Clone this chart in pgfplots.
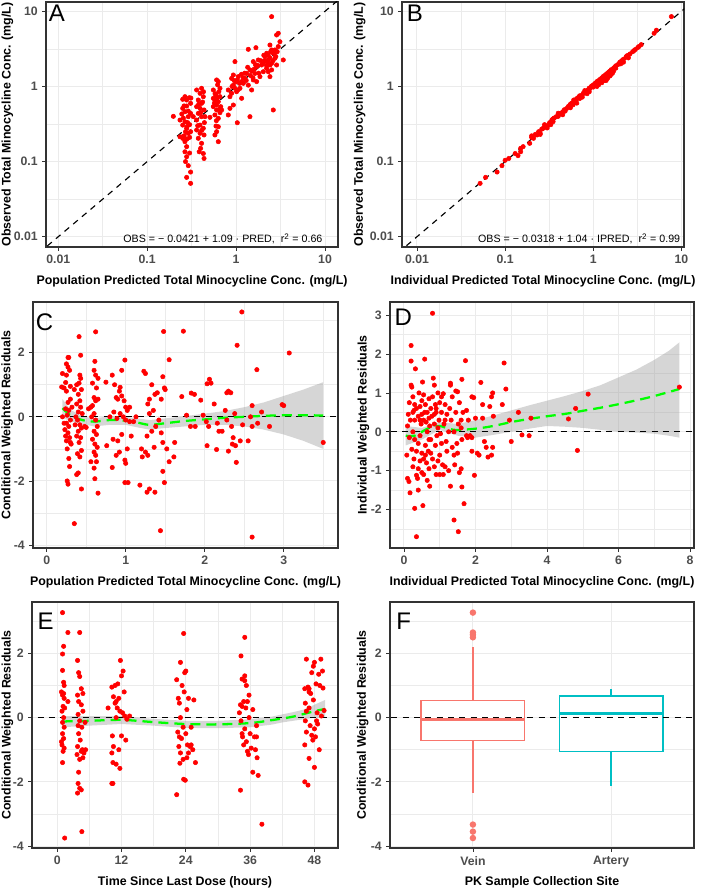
\documentclass[border=0pt]{standalone}
\usepackage{pgfplots}
\pgfplotsset{compat=1.18}
\usepgfplotslibrary{statistics}
\usepackage{fontspec}
\setmainfont{Liberation Sans}
\definecolor{gridcol}{HTML}{EBEBEB}
\definecolor{bordercol}{HTML}{333333}
\definecolor{tickcol}{HTML}{4D4D4D}
\definecolor{ptred}{HTML}{FF0000}
\definecolor{loessgreen}{HTML}{00FF00}
\definecolor{bandgray}{HTML}{999999}
\definecolor{veincol}{HTML}{F8766D}
\definecolor{arterycol}{HTML}{00BFC4}
\pgfplotsset{gg/.style={
  scale only axis,
  axis line style={draw=bordercol, line width=0.9pt},
  every tick/.style={draw=bordercol, line width=0.6pt},
  tick align=outside, major tick length=2.7pt, minor tick length=0pt,
  tick pos=left,
  grid=both,
  major grid style={draw=gridcol, line width=0.75pt},
  minor grid style={draw=gridcol, line width=0.4pt},
  tick label style={font=\bfseries\fontsize{9.2}{10.5}\selectfont, text=tickcol},
  label style={font=\bfseries\fontsize{9.3}{11}\selectfont},
  xlabel style={at={([yshift=-25.5pt]axis description cs:0.5,0)}, anchor=center},
  /pgf/number format/assume math mode=true,
},
ylab/.style={ylabel style={at={([xshift=#1]axis description cs:0,0.5)}, anchor=center}},
pts/.style={only marks, mark=*, mark size=1.65pt, color=ptred, mark options={draw=none, fill=ptred}},
refline/.style={black, line width=0.85pt, dash pattern=on 4.5pt off 4pt},
loess/.style={loessgreen, line width=1.7pt, dash pattern=on 7.5pt off 4.5pt},
band/.style={draw=none, fill=bandgray, fill opacity=0.4},
}
\tikzset{
letter/.style={anchor=north west, inner sep=0pt, font=\fontsize{18}{20}\selectfont},
annot/.style={anchor=base east, inner sep=0pt, font=\fontsize{8}{9.6}\selectfont},
}
\begin{document}
\begin{tikzpicture}
\path[use as bounding box] (0,0) rectangle (525pt,666.75pt);
% ---------------- A ----------------
\begin{axis}[gg, ylab=-29pt, at={(34.5pt,481.5pt)}, anchor=south west, width=219pt, height=183.75pt,
  xmode=log, ymode=log, xmin=0.00728, xmax=14.0, ymin=0.0073, ymax=13.3,
  xtick={0.01,0.1,1,10}, xticklabels={0.01,0.1,1,10},
  ytick={0.01,0.1,1,10}, yticklabels={0.01,0.1,1,10},
  minor xtick={0.0316,0.316,3.16}, minor ytick={0.0316,0.316,3.16},
  xlabel={Population Predicted Total Minocycline Conc. (mg/L)},
  ylabel={Observed Total Minocycline Conc. (mg/L)}]
\addplot[pts] coordinates {
(0.197,0.40)(0.234,0.357)(0.308,0.0513)(0.278,0.0616)(0.308,0.0726)(0.290,0.0882)(0.278,0.116)(0.266,0.135)(0.278,0.158)(0.266,0.184)(0.251,0.204)(0.234,0.214)(0.251,0.214)(0.290,0.238)(0.308,0.250)(0.278,0.277)(0.251,0.306)(0.266,0.339)(0.290,0.396)(0.308,0.438)(0.266,0.461)(0.251,0.511)(0.278,0.549)(0.308,0.596)(0.278,0.660)(0.298,0.708)(0.251,0.674)(0.266,0.731)
(0.26,0.22)(0.28,0.20)(0.3,0.21)(0.27,0.25)(0.255,0.38)(0.285,0.33)(0.31,0.70)(0.29,0.47)(0.26,0.55)(0.3,0.13)(0.27,0.10)(0.28,0.29)(0.245,0.43)(0.3,0.31)
(0.409,0.944)(0.393,0.810)(0.428,0.731)(0.376,0.660)(0.409,0.596)(0.360,0.538)(0.393,0.511)(0.436,0.486)(0.376,0.438)(0.409,0.396)(0.360,0.357)(0.393,0.306)(0.428,0.277)(0.360,0.263)(0.393,0.238)(0.436,0.226)(0.376,0.204)(0.409,0.175)(0.385,0.135)(0.428,0.128)(0.436,0.110)(0.399,0.150)(0.447,0.396)(0.330,0.396)(0.360,0.897)(0.42,0.62)(0.40,0.45)(0.37,0.30)(0.44,0.33)(0.41,0.26)(0.38,0.58)(0.43,0.85)
(0.508,0.388)
(0.604,1.22)(0.631,1.16)(0.555,0.897)(0.594,0.769)(0.659,0.731)(0.578,0.660)(0.631,0.627)(0.555,0.538)(0.604,0.486)(0.659,0.448)(0.578,0.417)(0.631,0.376)(0.594,0.297)(0.631,0.291)(0.604,0.250)(0.578,0.226)(0.631,0.184)(0.659,0.944)(0.555,0.695)(0.604,0.566)(0.672,0.538)(0.62,1.05)(0.58,0.80)(0.64,0.85)(0.61,0.70)(0.57,0.60)(0.65,0.50)(0.6,0.35)
(0.688,0.486)(0.817,0.417)(0.853,0.511)(0.931,0.566)(0.853,0.731)(0.891,0.810)(0.971,0.944)(0.931,1.04)(1.032,1.22)(0.971,2.14)(1.059,1.35)(1.106,0.944)(1.014,0.852)(1.154,1.16)(0.891,1.28)(0.817,0.897)(0.931,1.42)(1.032,0.329)(1.154,0.695)(1.206,1.10)(1.314,1.49)(1.259,1.28)(1.372,1.04)(1.432,1.66)(1.496,0.897)(1.432,0.396)(1.561,1.22)(1.630,1.49)(1.702,1.83)(1.778,2.25)(1.855,1.35)(1.937,1.93)(1.702,1.16)(1.561,2.14)(2.023,1.57)(2.205,1.74)(2.302,2.25)(2.112,2.49)(2.404,1.93)(2.510,2.03)(2.620,2.76)(2.736,2.37)(2.510,3.06)(2.205,2.76)(2.856,1.93)(2.404,1.35)(2.302,1.57)(2.510,1.66)(2.982,3.39)(3.113,3.94)(2.982,5.09)(2.856,4.84)(2.510,8.49)(3.394,2.25)(2.620,0.486)(2.736,3.06)(2.404,3.56)(1.372,3.12)(1.672,3.28)
(1.2,1.3)(1.3,1.2)(1.1,1.1)(1.25,1.5)(1.45,1.4)(1.5,1.6)(1.6,1.7)(1.75,1.9)(1.8,1.5)(1.9,2.2)(2.0,2.0)(2.1,2.2)(2.2,1.9)(2.3,2.6)(2.4,2.4)(2.6,2.2)(2.7,2.8)(2.8,2.5)(1.0,1.15)(0.95,1.2)(1.05,0.9)(0.9,1.0)(1.15,1.45)(1.35,1.8)(1.55,1.3)(1.65,1.95)(2.05,2.6)(2.25,2.1)(2.45,2.9)(2.9,2.9)
};
\addplot[refline] coordinates {(0.001,0.001) (100,100)};
\node[letter] at (rel axis cs:0,1) [xshift=2pt, yshift=-2.25pt] {A};
\node[annot] at (rel axis cs:1,0) [xshift=-11.5pt, yshift=3pt] {OBS = − 0.0421 + 1.09 · PRED,\ \ r\textsuperscript{2} = 0.66};
\end{axis}
% ---------------- B ----------------
\begin{axis}[gg, ylab=-31.8pt, at={(301.5pt,481.5pt)}, anchor=south west, width=211.5pt, height=183.75pt,
  xmode=log, ymode=log, xmin=0.00676, xmax=10.7, ymin=0.0073, ymax=13.3,
  xtick={0.01,0.1,1,10}, xticklabels={0.01,0.1,1,10},
  ytick={0.01,0.1,1,10}, yticklabels={0.01,0.1,1,10},
  minor xtick={0.0316,0.316,3.16}, minor ytick={0.0316,0.316,3.16},
  xlabel={Individual Predicted Total Minocycline Conc. (mg/L)},
  ylabel={Observed Total Minocycline Conc. (mg/L)}]
\addplot[pts] coordinates {
(0.052,0.0513)(0.060,0.0616)(0.081,0.0726)(0.092,0.0882)(0.10,0.104)(0.11,0.11)(0.13,0.128)(0.14,0.12)(0.15,0.135)(0.15,0.15)(0.16,0.158)(0.19,0.175)(0.2,0.22)(0.2,0.21)(0.21,0.204)(0.22,0.23)(0.23,0.226)(0.24,0.25)(0.25,0.238)(0.26,0.27)(0.27,0.277)(0.28,0.29)(0.29,0.297)(0.3,0.28)(0.31,0.306)(0.32,0.33)(0.34,0.36)(0.35,0.34)(0.36,0.38)(0.38,0.396)(0.4,0.40)(0.42,0.43)(0.43,0.44)(0.45,0.46)(0.47,0.49)(0.48,0.47)(0.5,0.51)(0.52,0.54)(0.54,0.56)(0.55,0.58)(0.57,0.60)(0.59,0.57)(0.6,0.62)(0.62,0.66)(0.64,0.67)(0.66,0.70)(0.68,0.71)(0.7,0.69)(0.72,0.74)(0.75,0.77)(0.77,0.81)(0.8,0.83)(0.82,0.85)(0.85,0.87)(0.87,0.90)(0.9,0.95)(0.92,0.94)(0.95,1.0)(0.97,1.02)(1.0,1.04)(1.02,1.06)(1.05,1.1)(1.08,1.12)(1.1,1.16)(1.15,1.2)(1.2,1.25)(1.25,1.3)(1.3,1.36)(1.35,1.4)(1.4,1.45)(1.45,1.5)(1.5,1.56)(1.55,1.6)(1.6,1.67)(1.7,1.75)(1.8,1.88)(1.9,1.95)(2.0,2.1)(2.1,2.2)(2.2,2.3)(2.35,2.45)(2.5,2.6)(2.6,2.7)(2.8,2.9)(3.0,3.1)(3.2,3.3)(3.5,3.6)(4.9,5.1)(5.2,5.6)(7.7,8.5)
(0.65,0.6)(0.7,0.75)(0.9,0.85)(1.1,1.0)(1.3,1.2)(1.5,1.4)(1.7,1.6)(0.45,0.42)(0.35,0.37)(1.4,1.2)(1.6,1.45)(0.25,0.23)(0.33,0.31)(0.55,0.52)(0.75,0.72)(1.2,1.15)(2.2,2.1)(2.5,2.4)(1.0,0.98)(0.85,0.8)(1.45,1.3)(1.35,1.25)(1.25,1.18)(2.9,3.0)(3.3,3.4)(2.4,2.55)(1.95,2.0)(1.75,1.8)
(1.15,1.05)(1.25,1.12)(1.35,1.2)(1.45,1.28)(1.55,1.38)(1.65,1.5)(0.6,0.66)(0.8,0.88)(0.4,0.44)(0.28,0.31)(1.8,1.75)(2.05,2.0)
};
\addplot[refline] coordinates {(0.001,0.001) (100,100)};
\node[letter] at (rel axis cs:0,1) [xshift=3.5pt, yshift=-2.25pt] {B};
\node[annot] at (rel axis cs:1,0) [xshift=-2.7pt, yshift=3pt] {OBS = − 0.0318 + 1.04 · IPRED,\ \ r\textsuperscript{2} = 0.99};
\end{axis}
% ---------------- C ----------------
\begin{axis}[gg, ylab=-19.3pt, at={(24.75pt,255.75pt)}, anchor=south west, width=228.75pt, height=184.5pt,
  xmin=-0.173, xmax=3.687, ymin=-4.09, ymax=3.58,
  xtick={0,1,2,3}, xticklabels={0,1,2,3}, minor xtick={0.5,1.5,2.5,3.5},
  ytick={-4,-2,0,2}, yticklabels={-4,-2,0,2}, minor ytick={-3,-1,1,3},
  xlabel={Population Predicted Total Minocycline Conc. (mg/L)},
  ylabel={Conditional Weighted Residuals}]
\addplot[pts] coordinates {
(0.19,0.93)(0.2,1.35)(0.22,0.9)(0.24,1.07)(0.25,1.65)(0.27,1.85)(0.28,1.85)(0.27,1.55)(0.29,1.45)(0.25,1.3)(0.3,0.55)(0.27,0.45)(0.24,0.25)(0.28,0.2)(0.26,0.05)(0.3,-0.1)(0.25,-0.2)(0.28,-0.3)(0.23,-0.4)(0.27,-0.5)(0.29,-0.65)(0.25,-0.75)(0.3,-0.8)(0.26,-1.0)(0.28,-1.3)(0.29,-1.55)(0.26,-2.0)(0.27,-2.1)(0.31,-0.85)(0.22,-0.2)(0.25,0.8)(0.3,0.95)(0.32,0.3)(0.2,0.0)(0.24,-0.6)
(0.41,2.5)(0.43,1.92)(0.38,1.0)(0.42,1.3)(0.43,1.2)(0.41,1.05)(0.44,0.85)(0.4,0.7)(0.42,0.5)(0.38,0.4)(0.43,0.3)(0.4,0.15)(0.37,0.0)(0.39,-0.1)(0.42,-0.25)(0.44,-0.35)(0.4,-0.45)(0.38,-0.6)(0.43,-0.65)(0.41,-0.8)(0.44,-1.05)(0.39,-1.15)(0.42,-1.25)(0.4,-1.75)(0.38,-1.8)(0.44,-2.25)(0.35,-3.33)(0.36,-0.25)(0.45,0.1)(0.35,0.85)(0.48,-0.3)(0.5,-0.33)
(0.62,2.65)(0.61,1.73)(0.6,1.45)(0.62,1.3)(0.65,1.2)(0.58,1.05)(0.63,0.9)(0.6,0.6)(0.62,0.5)(0.65,0.55)(0.56,0.3)(0.58,0.35)(0.6,0.1)(0.62,-0.1)(0.64,-0.3)(0.6,-0.45)(0.63,-0.55)(0.58,-0.7)(0.61,-0.85)(0.64,-0.95)(0.6,-1.1)(0.62,-1.2)(0.56,-1.4)(0.63,-1.4)(0.61,-1.93)(0.65,-2.38)(0.57,0.0)(0.53,0.25)(0.6,-1.6)
(0.75,1.08)(0.83,1.3)(0.95,1.45)(0.99,1.77)(0.86,1.0)(0.92,0.8)(0.95,0.65)(0.98,0.5)(1.0,0.3)(1.02,0.2)(0.9,0.55)(0.88,0.6)(0.85,0.15)(0.93,0.1)(0.97,0.0)(1.0,-0.1)(1.05,-0.15)(0.89,-0.05)(0.84,-0.7)(0.9,-0.75)(0.95,-0.55)(0.88,-1.2)(0.92,-1.1)(0.99,-1.35)(1.0,-1.45)(1.02,-1.0)(0.83,-1.58)(0.99,-2.05)(1.03,-2.05)(0.76,-0.9)(0.8,0.0)(1.05,0.3)(1.07,-0.6)(0.93,0.92)
(1.23,1.42)(1.25,1.35)(1.33,1.0)(1.37,0.7)(1.3,0.55)(1.28,0.4)(1.4,0.75)(1.45,0.55)(1.47,1.25)(1.49,0.9)(1.5,0.85)(1.55,1.78)(1.48,2.66)(1.73,2.67)(1.35,0.2)(1.3,0.1)(1.42,-0.1)(1.38,-0.3)(1.33,-0.45)(1.45,-0.5)(1.27,-0.6)(1.36,-0.95)(1.47,-0.8)(1.52,-1.0)(1.2,-1.0)(1.25,-1.1)(1.28,-1.2)(1.21,-1.25)(1.55,-1.4)(1.18,-2.13)(1.3,-2.25)(1.27,-2.35)(1.37,-2.35)(1.47,-1.7)(1.49,-2.05)(1.44,-3.55)(1.62,-0.8)(1.61,-1.25)(1.13,0.0)(1.1,-0.15)
(1.71,0.63)(1.83,0.74)(1.87,0.7)(1.95,0.52)(2.03,1.03)(2.06,1.17)(2.08,1.05)(2.12,0.4)(1.77,0.05)(1.82,-0.3)(1.88,-0.3)(1.98,0.05)(2.02,-0.15)(2.05,-0.3)(2.03,-0.9)(2.15,-1.02)(2.16,-0.2)(2.18,-0.45)(2.22,-0.45)
(2.26,0.2)(2.28,0.75)(2.3,0.8)(2.33,0.75)(2.47,3.27)(2.41,2.23)(2.3,-1.07)(2.34,-0.3)(2.36,-0.65)(2.35,-0.85)(2.39,-0.9)(2.4,-1.42)(2.45,-0.75)(2.48,-0.25)(2.55,-0.75)(2.58,0.0)(2.6,-0.3)(2.6,0.35)(2.66,1.47)(2.67,-0.2)(2.72,0.15)(2.82,-0.3)(2.98,0.38)(3.0,0.35)(3.07,1.99)(3.5,-0.8)(2.6,-3.75)(2.38,0.1)(2.28,-0.1)
};
\addplot[band] coordinates {(0.2,0.55)(0.3,0.22)(0.45,0.02)(0.6,-0.05)(0.8,0.02)(1.0,0.0)(1.15,-0.05)(1.3,-0.1)(1.5,-0.05)(1.75,0.02)(2.0,0.1)(2.25,0.18)(2.5,0.3)(2.75,0.45)(3.0,0.65)(3.25,0.85)(3.5,1.08)
 (3.5,-1.0)(3.25,-0.75)(3.0,-0.55)(2.75,-0.4)(2.5,-0.3)(2.25,-0.25)(2.0,-0.25)(1.75,-0.3)(1.5,-0.35)(1.3,-0.4)(1.15,-0.33)(1.0,-0.25)(0.8,-0.25)(0.6,-0.3)(0.45,-0.22)(0.3,-0.15)(0.2,0.0)} -- cycle;
\addplot[refline] coordinates {(-1,0) (5,0)};
\addplot[loess, smooth] coordinates {(0.2,0.27)(0.3,0.05)(0.45,-0.1)(0.6,-0.15)(0.8,-0.1)(1.0,-0.12)(1.15,-0.18)(1.3,-0.25)(1.5,-0.2)(1.75,-0.13)(2.0,-0.08)(2.25,-0.03)(2.5,0.0)(2.75,0.03)(3.0,0.05)(3.25,0.05)(3.5,0.04)};
\node[letter] at (rel axis cs:0,1) [xshift=2pt, yshift=-8.25pt] {C};
\end{axis}
% ---------------- D ----------------
\begin{axis}[gg, ylab=-20pt, at={(292.5pt,255.75pt)}, anchor=south west, width=228pt, height=184.5pt,
  xmin=-0.39, xmax=8.11, ymin=-2.99, ymax=3.34,
  xtick={0,2,4,6,8}, xticklabels={0,2,4,6,8}, minor xtick={1,3,5,7},
  ytick={-3,-2,-1,0,1,2,3}, yticklabels={-3,-2,-1,0,1,2,3}, minor ytick={-2.5,-1.5,-0.5,0.5,1.5,2.5},
  xlabel={Individual Predicted Total Minocycline Conc. (mg/L)},
  ylabel={Individual Weighted Residuals}]
\addplot[pts] coordinates {
(0.1,0.15)(0.12,0.45)(0.15,0.75)(0.08,-0.6)(0.1,-1.2)(0.14,-1.28)(0.17,-1.57)(0.2,1.82)(0.2,2.22)(0.2,1.2)(0.22,1.15)(0.25,0.9)(0.28,0.55)(0.3,0.3)(0.25,0.0)(0.3,-0.2)(0.22,-0.45)(0.28,-0.7)(0.25,-0.9)(0.32,1.62)(0.35,-1.12)(0.35,-2.7)(0.3,-1.97)(0.4,-1.5)(0.38,-1.2)(0.42,1.0)(0.45,0.65)(0.4,0.4)(0.48,0.2)(0.45,-0.1)(0.4,-0.3)(0.5,-0.55)(0.45,-0.75)(0.5,-1.05)(0.55,-1.1)(0.53,-1.9)(0.52,1.28)(0.58,1.87)(0.55,0.95)(0.6,0.7)(0.58,0.5)(0.62,0.25)(0.65,0.0)(0.6,-0.35)(0.68,-0.5)(0.63,-0.8)(0.7,-0.95)(0.65,-1.25)(0.72,-1.4)(0.7,0.85)(0.75,0.6)(0.78,0.4)(0.72,0.15)(0.8,3.05)(0.82,1.38)(0.85,1.2)(0.8,0.9)(0.88,0.7)(0.9,0.5)(0.85,0.2)(0.92,-0.1)(0.88,-0.35)(0.8,-0.7)(0.85,-0.9)(0.9,-1.1)(0.95,1.0)(1.0,0.75)(1.05,0.5)(0.98,0.3)(1.02,-0.05)(1.05,-0.3)(1.0,-0.6)(1.08,-0.85)(1.0,-1.1)(1.1,-1.1)(1.1,0.98)(1.15,0.7)(1.2,0.45)(1.12,0.2)(1.18,-0.25)(1.2,-0.5)(1.15,-0.9)(1.25,-1.0)(1.3,1.25)(1.3,1.2)(1.35,0.9)(1.28,0.6)(1.32,0.3)(1.4,0.0)(1.35,-0.4)(1.4,-0.6)(1.3,-1.4)(1.42,-0.85)(1.45,1.05)(1.5,1.03)(1.55,0.75)(1.45,0.5)(1.52,0.2)(1.48,-0.3)(1.5,-0.55)(1.55,-1.05)(1.6,-0.95)(1.62,1.35)(1.65,0.5)(1.6,0.3)(1.62,-0.2)(1.62,-1.42)(1.4,-2.27)(1.52,-2.57)(1.68,-1.85)(1.72,1.83)(1.75,0.55)(1.8,0.3)(1.78,-0.15)(1.85,-0.1)(1.9,0.9)(1.95,0.88)(1.9,-0.5)(1.97,-1.12)(2.0,0.35)(2.05,-0.55)(2.1,-0.6)(2.15,1.27)(2.2,0.7)(2.2,0.35)(2.25,-0.25)(2.3,-0.4)(2.35,-0.65)(2.4,0.65)(2.45,0.9)(2.48,1.0)(2.5,0.4)(2.45,-0.6)(2.48,-0.4)(2.8,1.77)(2.85,1.1)(2.75,0.7)(2.95,0.3)(3.0,-0.25)(3.2,0.5)(3.3,-0.08)(3.5,-0.1)(3.55,0.35)(4.6,0.33)(4.8,0.6)(4.85,-0.48)(5.15,0.97)(7.7,1.15)
(0.15,-0.15)(0.18,0.3)(0.35,0.6)(0.5,0.8)(0.55,0.3)(0.6,-0.6)(0.75,-0.2)(0.95,0.1)(1.25,0.0)(0.4,-0.95)(0.7,0.35)(1.05,0.9)(0.9,0.6)(0.65,0.5)(1.6,0.1)(1.75,-0.1)(1.9,-0.15)(0.3,0.7)(0.5,0.45)(0.7,-0.2)(0.35,-0.5)(0.55,-0.7)(0.75,-0.55)(0.95,-0.75)(1.15,0.3)(0.25,0.5)(0.45,0.3)(0.85,0.45)
};
\addplot[band] coordinates {(0.05,0.15)(0.5,0.1)(1.0,0.25)(1.5,0.2)(2.0,0.3)(2.5,0.42)(3.0,0.55)(3.5,0.68)(4.0,0.8)(4.5,0.92)(5.0,1.05)(5.5,1.2)(6.0,1.4)(6.5,1.6)(7.0,1.85)(7.4,2.08)(7.7,2.3)
 (7.7,-0.15)(7.4,-0.1)(7.0,-0.05)(6.5,-0.02)(6.0,0.0)(5.5,0.05)(5.0,0.1)(4.5,0.13)(4.0,0.15)(3.5,0.08)(3.0,0.0)(2.5,-0.08)(2.0,-0.15)(1.5,-0.1)(1.0,0.05)(0.5,-0.2)(0.05,-0.35)} -- cycle;
\addplot[refline] coordinates {(-1,0) (9,0)};
\addplot[loess, smooth] coordinates {(0.05,-0.1)(0.3,-0.1)(0.7,0.1)(1.0,0.15)(1.4,0.05)(2.0,0.08)(2.5,0.15)(3.0,0.25)(3.5,0.33)(4.0,0.4)(4.5,0.46)(5.0,0.54)(5.5,0.62)(6.0,0.71)(6.5,0.81)(7.0,0.92)(7.7,1.1)};
\node[letter] at (rel axis cs:0,1) [xshift=3.3pt, yshift=-4.7pt] {D};
\end{axis}
% ---------------- E ----------------
\begin{axis}[gg, ylab=-18.5pt, at={(24pt,30.75pt)}, anchor=south west, width=229.5pt, height=184.5pt,
  xmin=-4.7, xmax=52.4, ymin=-4.06, ymax=3.6,
  xtick={0,12,24,36,48}, xticklabels={0,12,24,36,48}, minor xtick={6,18,30,42},
  ytick={-4,-2,0,2}, yticklabels={-4,-2,0,2}, minor ytick={-3,-1,1,3},
  xlabel={Time Since Last Dose (hours)},
  ylabel={Conditional Weighted Residuals}]
\addplot[pts] coordinates {
(1.0,3.27)(1.2,2.22)(1.0,1.98)(2.0,2.65)(1.0,1.47)(1.2,1.1)(1.3,1.0)(0.8,0.8)(1.0,0.7)(1.3,0.6)(1.1,0.35)(0.9,0.2)(1.2,0.0)(1.0,-0.15)(1.3,-0.3)(1.0,-0.5)(1.2,-0.65)(0.9,-0.85)(1.3,-0.95)(1.1,-1.05)(1.0,-1.4)(1.4,-3.75)(2.0,0.5)(1.2,0.75)(0.8,-0.75)(1.4,0.3)
(4.2,2.65)(3.8,1.78)(4.0,1.4)(4.2,1.28)(4.5,0.9)(3.8,0.7)(4.8,0.75)(4.0,0.5)(4.5,0.4)(4.8,0.2)(3.9,0.1)(4.2,-0.1)(4.6,-0.3)(4.0,-0.5)(4.3,-0.7)(3.8,-0.9)(4.5,-1.05)(5.0,-1.1)(3.7,-1.15)(4.2,-1.3)(4.8,-1.25)(4.0,-1.7)(3.9,-2.05)(4.2,-2.2)(3.8,-2.35)(4.5,-2.25)(4.6,-3.55)(5.2,-0.15)(5.3,-1.0)(4.7,-1.0)(3.9,-0.25)
(9.5,0.3)(10.2,0.95)(10.5,0.65)(11.0,0.5)(11.5,0.6)(11.8,1.78)(12.0,1.3)(12.3,1.45)(12.5,0.8)(11.3,1.05)(10.8,1.0)(11.2,0.3)(11.7,0.2)(12.2,0.15)(12.6,0.05)(13.0,-0.05)(13.5,0.05)(10.3,-0.57)(10.5,-0.9)(10.2,-1.1)(10.4,-1.4)(11.0,-1.45)(11.5,-1.0)(12.0,-0.57)(12.8,-0.7)(11.7,-1.58)(10.2,-2.05)(10.4,-2.05)(11.0,0.0)(10.8,0.45)
(22.3,1.18)(22.6,0.6)(22.8,0.45)(23.0,1.72)(23.3,1.0)(23.6,2.62)(23.8,1.4)(24.0,1.45)(23.7,0.8)(24.2,0.25)(24.5,0.6)(25.5,0.55)(23.0,0.0)(22.5,-0.45)(22.8,-0.6)(23.2,-0.65)(23.5,-0.3)(24.0,-0.5)(24.3,-0.85)(22.7,-0.9)(23.0,-1.1)(23.5,-1.3)(24.5,-1.1)(24.8,-0.9)(25.0,-0.85)(25.3,-1.0)(25.8,-1.4)(22.9,-1.42)(23.6,-1.92)(23.9,-1.95)(22.3,-2.4)(24.2,-1.25)(25.0,-0.3)
(34.3,1.92)(35.0,2.5)(34.5,1.2)(35.0,1.15)(35.3,1.0)(35.0,1.3)(35.8,0.7)(34.8,0.5)(35.5,0.5)(34.5,0.35)(35.2,0.3)(34.0,0.15)(35.8,0.0)(36.5,0.25)(34.3,-0.1)(35.0,-0.35)(34.6,-0.6)(35.3,-0.75)(34.8,-0.85)(35.5,-1.05)(35.7,-1.15)(36.0,-0.5)(36.8,-0.6)(37.2,-0.6)(37.0,-1.0)(36.2,-0.95)(37.3,-1.25)(36.5,-1.7)(37.5,-1.8)(34.2,-2.26)(38.2,-3.32)(37.2,-0.25)(34.5,-0.5)(34.2,0.4)
(46.5,1.82)(48.0,1.72)(47.8,1.6)(47.5,1.4)(48.8,1.35)(49.5,1.45)(49.2,1.82)(48.3,1.05)(49.0,1.0)(49.6,0.92)(46.2,0.9)(46.8,0.95)(47.0,0.8)(47.3,0.75)(47.8,0.55)(46.3,0.45)(47.0,0.3)(46.5,0.2)(48.5,0.15)(49.3,0.05)(49.8,0.22)(46.3,-0.1)(47.2,-0.25)(48.0,-0.35)(46.5,-0.45)(48.6,-0.2)(47.5,-0.55)(48.2,-0.6)(47.7,-0.7)(46.2,-0.85)(48.9,-1.0)(47.0,-1.27)(48.0,-1.55)(46.2,-2.0)(46.8,-2.1)(48.4,-0.1)(47.0,0.9)
};
\addplot[band] coordinates {(1,0.05)(6,0.05)(12,0.05)(18,-0.04)(24,-0.1)(30,-0.1)(36,-0.05)(40,0.03)(42,0.1)(44,0.17)(46,0.25)(48,0.4)(50,0.55)
 (50,0.0)(48,0.0)(46,-0.05)(44,-0.1)(42,-0.15)(40,-0.22)(36,-0.3)(30,-0.33)(24,-0.32)(18,-0.25)(12,-0.2)(6,-0.25)(1,-0.3)} -- cycle;
\addplot[refline] coordinates {(-10,0) (60,0)};
\addplot[loess, smooth] coordinates {(1,-0.12)(6,-0.1)(12,-0.07)(18,-0.14)(24,-0.2)(30,-0.21)(36,-0.17)(40,-0.08)(44,0.03)(48,0.2)(50,0.27)};
\node[letter] at (rel axis cs:0,1) [xshift=4pt, yshift=-8.25pt] {E};
\end{axis}
% ---------------- F ----------------
\begin{axis}[gg, ylab=-20.5pt, at={(292.5pt,30.75pt)}, anchor=south west, width=228pt, height=184.5pt,
  xmin=0.4, xmax=2.6, ymin=-4.06, ymax=3.6,
  xtick={1,2}, xticklabels={Vein,Artery},
  ytick={-4,-2,0,2}, yticklabels={-4,-2,0,2}, minor ytick={-3,-1,1,3},
  xlabel={PK Sample Collection Site},
  ylabel={Conditional Weighted Residuals},
  boxplot/draw direction=y, boxplot/whisker extend=0]
\addplot[veincol, line width=1pt, mark=*, mark size=1.9pt, mark options={draw=none, fill=veincol},
  boxplot prepared={draw position=1, box extend=0.75, lower whisker=-2.36, lower quartile=-0.72, median=-0.05, upper quartile=0.54, upper whisker=2.21},
  boxplot/every box/.style={fill=white, line width=1pt},
  boxplot/every whisker/.style={line width=1pt},
  boxplot/every median/.style={line width=2pt}]
  table[row sep=\\, y index=0] {data\\ 3.27\\ 2.65\\ 2.58\\ 2.5\\ -3.33\\ -3.55\\ -3.75\\};
\addplot[arterycol, line width=1pt,
  boxplot prepared={draw position=2, box extend=0.75, lower whisker=-2.12, lower quartile=-1.06, median=0.135, upper quartile=0.675, upper whisker=0.89},
  boxplot/every box/.style={fill=white, line width=1pt},
  boxplot/every whisker/.style={line width=1pt},
  boxplot/every median/.style={line width=2pt}]
  coordinates {};
\addplot[refline] coordinates {(0,0) (3,0)};
\node[letter] at (rel axis cs:0,1) [xshift=4.5pt, yshift=-8.25pt] {F};
\end{axis}
\end{tikzpicture}
\end{document}
